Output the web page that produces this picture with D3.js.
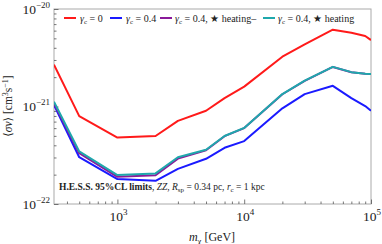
<!DOCTYPE html>
<html><head><meta charset="utf-8">
<script src="https://cdn.jsdelivr.net/npm/d3@7"></script>
<style>body{margin:0;background:#fff}svg{display:block}text{font-family:"Liberation Serif","DejaVu Serif",serif;fill:#222}</style>
</head><body><svg id="c" width="382" height="244"></svg>
<script>
const masses = [316, 500, 1000, 2000, 3000, 5000, 7000, 10000, 20000, 30000, 50000, 70000, 90000, 100000];
const redVals = [2.69e-21, 7.97e-22, 4.80e-22, 4.98e-22, 7.13e-22, 9.05e-22, 1.22e-21, 1.60e-21, 3.24e-21, 4.34e-21, 6.13e-21, 5.70e-21, 5.29e-21, 4.80e-21];
const blueVals = [1.04e-21, 3.02e-22, 1.80e-22, 1.73e-22, 2.29e-22, 2.91e-22, 3.77e-22, 4.42e-22, 9.58e-22, 1.34e-21, 1.63e-21, 1.22e-21, 1.01e-21, 9.05e-22];
const purpleVals = [1.08e-21, 3.32e-22, 1.90e-22, 1.97e-22, 2.92e-22, 3.56e-22, 4.96e-22, 6.01e-22, 1.335e-21, 1.835e-21, 2.545e-21, 2.245e-21, 2.165e-21, 2.155e-21];
const cyanVals = [1.12e-21, 3.46e-22, 1.98e-22, 2.06e-22, 3.02e-22, 3.60e-22, 4.98e-22, 6.03e-22, 1.34e-21, 1.84e-21, 2.55e-21, 2.25e-21, 2.17e-21, 2.16e-21];
const seriesNames = ["red", "blue", "purple", "cyan"];
const xMajor = [3, 4, 5];
const yMajor = [-20, -21, -22];

const colors = {red:"#ff1a1a", blue:"#1a1aff", purple:"#8a1a9a", cyan:"#1fa8ac"};
const values = {red:redVals, blue:blueVals, purple:purpleVals, cyan:cyanVals};

const L=54, R=371, T=9, B=204;
const svg = d3.select("#c");
const x = d3.scaleLog().domain([Math.pow(10,2.5), 1e5]).range([L, R]);
const y = d3.scaleLog().domain([1e-22, 1e-20]).range([B, T]);

svg.append("rect").attr("x",L).attr("y",T).attr("width",R-L).attr("height",B-T)
  .attr("fill","none").attr("stroke","#aaa").attr("stroke-width",1);

const xMinor=[], yMinor=[];
for (let e=2; e<5; e++) for (let k=2;k<10;k++){const v=k*Math.pow(10,e); if(v>=Math.pow(10,2.5)&&v<=1e5) xMinor.push(v);}
for (let e=-22; e<-20; e++) for (let k=2;k<10;k++) yMinor.push(k*Math.pow(10,e));

const gx = svg.append("g").attr("transform",`translate(0,${B})`);
gx.append("g").call(d3.axisBottom(x).tickValues(xMinor).tickSize(-2.5).tickFormat(""));
gx.append("g").call(d3.axisBottom(x).tickValues(xMajor.map(e=>Math.pow(10,e))).tickSize(-4.5).tickFormat(""));
const gy = svg.append("g").attr("transform",`translate(${L},0)`);
gy.append("g").call(d3.axisLeft(y).tickValues(yMinor).tickSize(-2.5).tickFormat(""));
gy.append("g").call(d3.axisLeft(y).tickValues(yMajor.map(e=>Math.pow(10,e))).tickSize(-4.5).tickFormat(""));
svg.selectAll(".domain").remove();
svg.selectAll(".tick line").attr("stroke","#555").attr("stroke-width",0.8);

xMajor.forEach(e=>{
  const t=svg.append("text").attr("x",x(Math.pow(10,e))+1).attr("y",221).attr("text-anchor","middle").style("font-size","13.5px");
  t.append("tspan").text("10");
  t.append("tspan").attr("dy",-6).style("font-size","9px").text(e);
});
yMajor.forEach(e=>{
  const t=svg.append("text").attr("x",50).attr("y",y(Math.pow(10,e))+4.5).attr("text-anchor","end").style("font-size","13.5px");
  t.append("tspan").text("10");
  t.append("tspan").attr("dy",-6).style("font-size","9px").text("\u2212"+(-e));
});

const xt = svg.append("text").attr("x",212).attr("y",241).attr("text-anchor","middle").style("font-size","12px");
xt.append("tspan").style("font-style","italic").text("m");
xt.append("tspan").attr("dy",2.5).style("font-size","8.5px").text("\u03c7");
xt.append("tspan").attr("dy",-2.5).text(" [GeV]");

const yt = svg.append("text").attr("transform","translate(12,106) rotate(-90)").attr("text-anchor","middle").style("font-size","11.5px");
yt.append("tspan").text("\u27e8");
yt.append("tspan").style("font-style","italic").text("\u03c3v");
yt.append("tspan").text("\u27e9 [cm");
yt.append("tspan").attr("dy",-4).style("font-size","8px").text("3");
yt.append("tspan").attr("dy",4).text("s");
yt.append("tspan").attr("dy",-4).style("font-size","8px").text("\u22121");
yt.append("tspan").attr("dy",4).text("]");

const line = d3.line().x((d,i)=>x(masses[i])).y(d=>y(d));
svg.append("clipPath").attr("id","pc").append("rect").attr("x",L).attr("y",T).attr("width",R-L).attr("height",B-T);
seriesNames.forEach(n=>{
  svg.append("path").datum(values[n]).attr("d",line).attr("fill","none")
    .attr("stroke",colors[n]).attr("stroke-width",2).attr("stroke-linejoin","round")
    .attr("clip-path","url(#pc)");
});

const legY = 18;
const legItems = [
  {n:"red", x0:64, tx:80, label:[["\u03b3","i"],["c","sub"],[" = 0",""]]},
  {n:"blue", x0:110, tx:126, label:[["\u03b3","i"],["c","sub"],[" = 0.4",""]]},
  {n:"purple", x0:160, tx:175, label:[["\u03b3","i"],["c","sub"],[" = 0.4, \u2605 heating\u2013",""]]},
  {n:"cyan", x0:263, tx:278, label:[["\u03b3","i"],["c","sub"],[" = 0.4, \u2605 heating",""]]}
];
legItems.forEach(it=>{
  svg.append("line").attr("x1",it.x0).attr("x2",it.x0+12).attr("y1",legY).attr("y2",legY)
    .attr("stroke",colors[it.n]).attr("stroke-width",2);
  const t=svg.append("text").attr("x",it.tx).attr("y",legY+3.5).style("font-size","10px");
  it.label.forEach(([s,k])=>{
    const ts=t.append("tspan").text(s);
    if(k==="i") ts.style("font-style","italic");
    if(k==="sub") ts.attr("dy",2).style("font-size","7px");
    else if(s.startsWith(" ")) ts.attr("dy",-2);
  });
});

const an = svg.append("text").attr("x",59).attr("y",190).style("font-size","9.5px");
an.append("tspan").style("font-weight","bold").text("H.E.S.S. 95%CL limits");
an.append("tspan").text(", ");
an.append("tspan").style("font-style","italic").text("ZZ");
an.append("tspan").text(", ");
an.append("tspan").style("font-style","italic").text("R");
an.append("tspan").attr("dy",2).style("font-size","7px").text("sp");
an.append("tspan").attr("dy",-2).text(" = 0.34 pc, ");
an.append("tspan").style("font-style","italic").text("r");
an.append("tspan").attr("dy",2).style("font-size","7px").text("c");
an.append("tspan").attr("dy",-2).text(" = 1 kpc");
</script></body></html>
